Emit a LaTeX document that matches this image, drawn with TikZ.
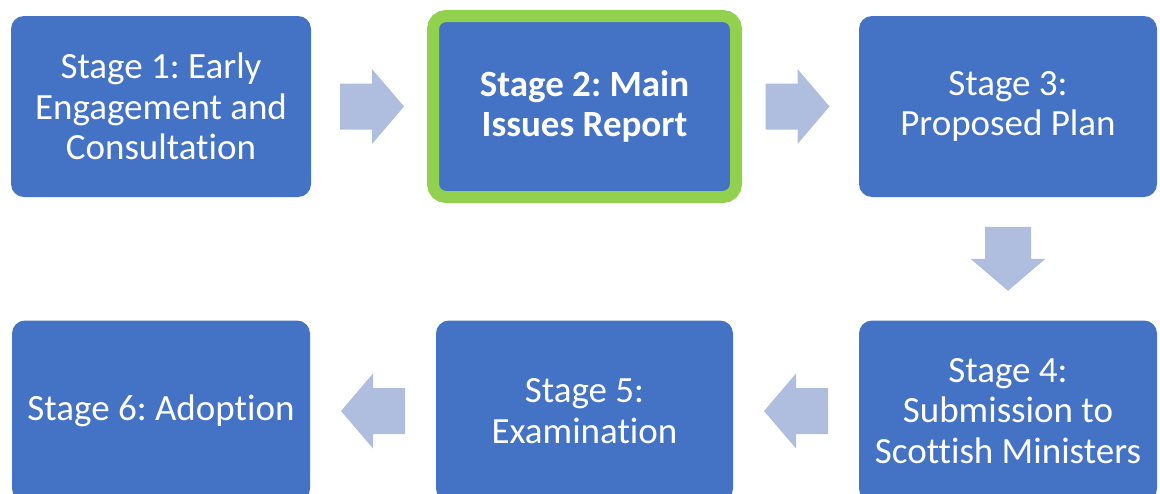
\documentclass[tikz,border=0pt]{standalone}
\usepackage{fontspec}
\setmainfont[Ligatures=NoCommon]{Carlito}
\frenchspacing
\usetikzlibrary{calc}
\definecolor{stageblue}{HTML}{4472C4}
\definecolor{flowgrey}{HTML}{AFBDDF}
\definecolor{markgreen}{HTML}{92D050}
\tikzset{
    stagebox/.style={fill=stageblue, rounded corners=13pt, minimum width=300pt,
        minimum height=181pt, inner sep=0pt, outer sep=0pt, align=center,
        text=white, font=\fontsize{37}{40.5}\selectfont},
    current/.style={draw=markgreen, line width=12pt,
        font=\bfseries\fontsize{37}{40.5}\selectfont},
    pics/flow/.style={code={
        \fill[flowgrey] (-32,-23) -- (0,-23) -- (0,-37.5) -- (32,0)
            -- (0,37.5) -- (0,23) -- (-32,23) -- cycle;}}
}
\begin{document}
\begin{tikzpicture}[x=1pt,y=-1pt]
        \useasboundingbox (0,0) rectangle (1160,493);
        \clip (0,0) rectangle (1160,493);
        %% top row
        \node[stagebox] (s1) at (161,106.5) {Stage 1: Early\\Engagement and\\Consultation};
        \node[stagebox,current,minimum width=303pt] (s2) at (584.5,106.5) {Stage 2: Main\\Issues Report};
        \node[stagebox,minimum width=298pt] (s3) at (1008,106.5) {Stage 3:\\Proposed Plan};
        %% bottom row
        \node[stagebox,minimum width=298pt] (s4) at (1008,411) {Stage 4:\\Submission to\\Scottish Ministers};
        \node[stagebox,minimum width=297pt] (s5) at (584.5,411) {Stage 5:\\Examination};
        \node[stagebox,minimum width=298pt] (s6) at (161,411) {Stage 6: Adoption};
        %% flow arrows
        \pic at ($(s1.east)!0.5!(s2.west)$) {flow};
        \pic at ($(s2.east)!0.5!(s3.west)$) {flow};
        \pic[rotate=-90] at ($(s3.south)!0.5!(s4.north)$) {flow};
        \pic[rotate=180] at ($(s4.west)!0.5!(s5.east)$) {flow};
        \pic[rotate=180] at ($(s5.west)!0.5!(s6.east)$) {flow};
\end{tikzpicture}
\end{document}
